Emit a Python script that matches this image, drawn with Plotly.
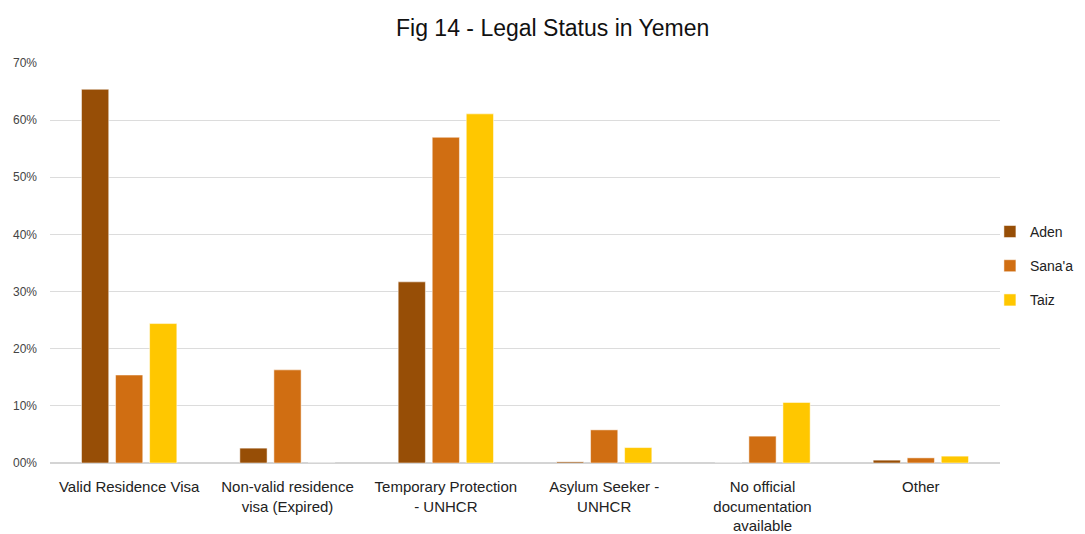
import plotly.graph_objects as go

categories = [
    "Valid Residence Visa",
    "Non-valid residence<br>visa (Expired)",
    "Temporary Protection<br>- UNHCR",
    "Asylum Seeker -<br>UNHCR",
    "No official<br>documentation<br>available",
    "Other",
]
aden = [65.4, 2.6, 31.7, 0.2, 0.0, 0.5]
sanaa = [15.4, 16.3, 57.0, 5.8, 4.7, 0.9]
taiz = [24.4, 0.0, 61.1, 2.7, 10.6, 1.2]

tick_vals = [0, 10, 20, 30, 40, 50, 60, 70]
tick_text = ["00%", "10%", "20%", "30%", "40%", "50%", "60%", "70%"]

series = [("Aden", aden, "#974E06"), ("Sana'a", sanaa, "#D06E12"), ("Taiz", taiz, "#FFC700")]

fig = go.Figure()
for name, vals, color in series:
    fig.add_trace(go.Bar(
        x=categories, y=vals, name=name, legendgroup=name,
        marker=dict(color=color, line=dict(color="rgba(255,255,255,0.5)", width=1)),
    ))

fig.update_layout(
    width=1085, height=534,
    margin=dict(l=42, r=93, t=55, b=79, autoexpand=False),
    paper_bgcolor="white", plot_bgcolor="white",
    barmode="group", bargap=0.355, bargroupgap=0.2,
    font=dict(family="Liberation Sans, Arial, sans-serif", color="#222222"),
    title=dict(text="Fig 14 - Legal Status in Yemen", x=0.502, xanchor="center",
               xref="container", yref="container",
               y=0.9625, yanchor="middle",
               font=dict(size=23, family="Liberation Sans, Arial, sans-serif", color="#111111")),
    legend=dict(xref="container", yref="container", x=0.905, xanchor="left",
                y=0.517, yanchor="middle",
                font=dict(size=14, color="#222222"), tracegroupgap=13,
                bgcolor="rgba(0,0,0,0)"),
    xaxis=dict(showline=False, ticks="", tickfont=dict(size=15, color="#222222"),
               showgrid=False, ticklabelstandoff=13),
    yaxis=dict(range=[0, 70], tickvals=tick_vals, ticktext=tick_text,
               showgrid=True, gridcolor="#DCDCDC", gridwidth=1,
               zeroline=True, zerolinecolor="#D4D4D4", zerolinewidth=1.5,
               ticks="", ticklabelstandoff=12,
               tickfont=dict(size=12, color="#444444")),
)

fig.write_html("out.html")
